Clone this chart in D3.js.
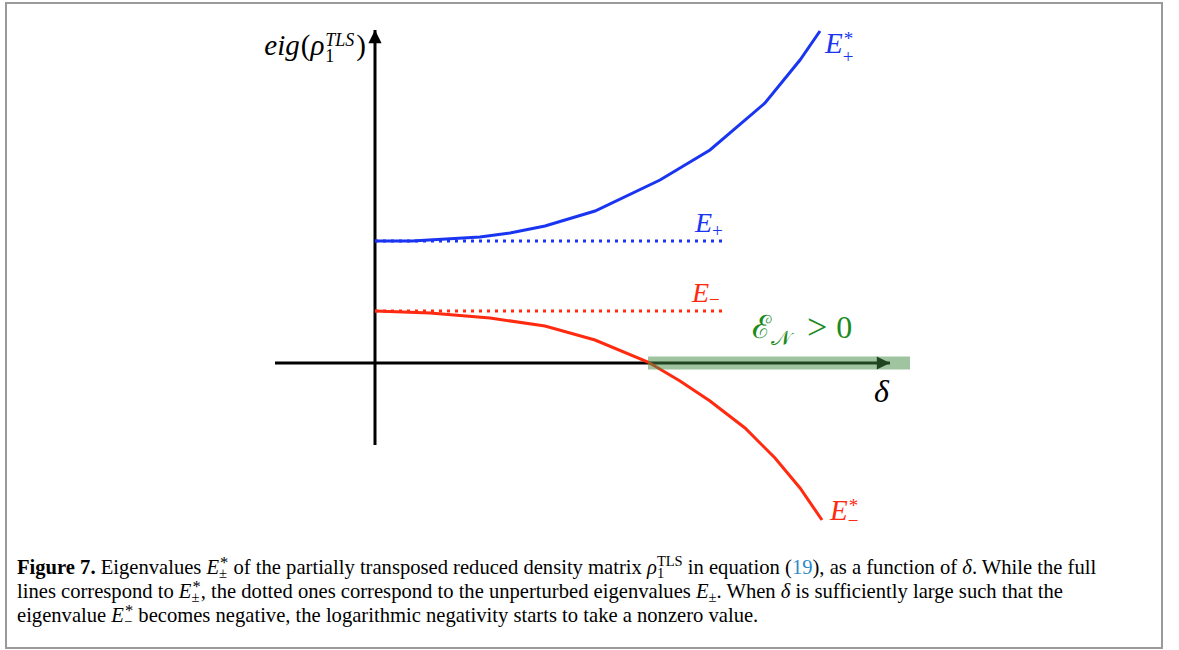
<!DOCTYPE html>
<html>
<head>
<meta charset="utf-8">
<script src="https://cdn.jsdelivr.net/npm/d3@7"></script>
<style>
  body { margin: 0; background: #fff; }
  svg { display: block; }
  text { white-space: pre; }
</style>
</head>
<body>
<div id="chart"></div>
<script>
// Figure 7 - eigenvalues of partially transposed density matrix

const width = 1179;
const height = 650;

// data (delta, eigenvalue)
const deltaPlus = [0, 0.37, 1.05, 1.35, 1.70, 2.20, 2.85, 3.35, 3.90, 4.25, 4.45];
const eigPlus = [1.22, 1.22, 1.26, 1.30, 1.37, 1.52, 1.83, 2.13, 2.60, 3.03, 3.32];
const deltaMinus = [0, 0.55, 1.15, 1.70, 2.20, 2.73, 3.05, 3.35, 3.70, 4.00, 4.25, 4.47];
const eigMinus = [0.52, 0.50, 0.45, 0.37, 0.23, 0.01, -0.18, -0.38, -0.65, -0.95, -1.25, -1.57];
const unperturbed = [1.22, 0.52];        // E+, E-
const dottedRange = [0, 3.47];
const negativityStart = 2.73;            // where E-* crosses zero
const xAxisRange = [-1, 5.15];
const yAxisRange = [-0.82, 3.33];

const blue = '#1a35f2';
const red = '#ff2a10';
const green = '#1c8a1c';
const mathFont = '"Liberation Serif", "DejaVu Serif", serif';
const capFont = '"Liberation Serif", "Times New Roman", serif';

const svg = d3.select('#chart')
  .append('svg')
  .attr('width', width)
  .attr('height', height);

// frame
svg.append('rect')
  .attr('x', 6).attr('y', 3)
  .attr('width', 1156).attr('height', 645)
  .attr('fill', 'none')
  .attr('stroke', '#9a9a9a')
  .attr('stroke-width', 2);

// scales: 1 unit = 100px, origin at (375, 363)
const x = d3.scaleLinear().domain([-1, 5.35]).range([275, 910]);
const y = d3.scaleLinear().domain([-0.82, 3.33]).range([445, 30]);

const plot = svg.append('g');

// arrowheads
svg.append('defs').append('marker')
  .attr('id', 'arrow')
  .attr('viewBox', '0 0 10 10')
  .attr('refX', 10).attr('refY', 5)
  .attr('markerWidth', 6).attr('markerHeight', 4.4)
  .attr('markerUnits', 'strokeWidth')
  .attr('orient', 'auto')
  .append('path')
  .attr('d', 'M0,0 L10,5 L0,10 Z')
  .attr('fill', '#000');

// axes
plot.append('line')
  .attr('x1', x(xAxisRange[0])).attr('y1', y(0))
  .attr('x2', x(xAxisRange[1])).attr('y2', y(0))
  .attr('stroke', '#000').attr('stroke-width', 3)
  .attr('marker-end', 'url(#arrow)');

plot.append('line')
  .attr('x1', x(0)).attr('y1', y(yAxisRange[0]))
  .attr('x2', x(0)).attr('y2', y(yAxisRange[1]))
  .attr('stroke', '#000').attr('stroke-width', 3)
  .attr('marker-end', 'url(#arrow)');

// dotted unperturbed eigenvalues
plot.selectAll('.dotted')
  .data(unperturbed)
  .enter().append('line')
  .attr('class', 'dotted')
  .attr('x1', x(dottedRange[0])).attr('x2', x(dottedRange[1]))
  .attr('y1', d => y(d)).attr('y2', d => y(d))
  .attr('stroke', (d, i) => i === 0 ? blue : red)
  .attr('stroke-width', 3)
  .attr('stroke-dasharray', '3,5');

// perturbed curves
const line = d3.line()
  .x(d => x(d[0]))
  .y(d => y(d[1]));

plot.append('path')
  .datum(d3.zip(deltaPlus, eigPlus))
  .attr('d', line)
  .attr('fill', 'none')
  .attr('stroke', blue)
  .attr('stroke-width', 3);

plot.append('path')
  .datum(d3.zip(deltaMinus, eigMinus))
  .attr('d', line)
  .attr('fill', 'none')
  .attr('stroke', red)
  .attr('stroke-width', 3);

// region where negativity is nonzero
plot.append('rect')
  .attr('x', x(negativityStart))
  .attr('y', y(0) - 6.5)
  .attr('width', x(5.35) - x(negativityStart))
  .attr('height', 13)
  .attr('fill', 'rgb(65,137,65)')
  .attr('opacity', 0.5);

// lay out math pieces left to right; item = {t, it, bold, size, rise, fill, gap}
// or {stack: [sup, sub]} for scripts placed above each other
function mathRun(g, x0, y0, items, base) {
  let cx = x0;
  const put = (it, px) => {
    const t = g.append('text')
      .attr('x', px)
      .attr('y', y0 - (it.rise || 0))
      .attr('font-family', base.font)
      .attr('font-size', it.size || base.size)
      .attr('fill', it.fill || base.fill || '#000')
      .text(it.t);
    if (it.it) t.attr('font-style', 'italic');
    if (it.bold) t.attr('font-weight', 'bold');
    return t.node().getComputedTextLength();
  };
  items.forEach(it => {
    if (typeof it === 'string') it = { t: it };
    if (it.gap) { cx += it.gap; return; }
    if (it.stack) {
      const w = it.stack.map(s => put(s, cx + (s.dx || 0)) + (s.dx || 0));
      cx += d3.max(w);
    } else {
      cx += put(it, cx);
    }
  });
  return cx;
}

// y label, right edge near the axis
const yLabel = [
  { t: 'eig', it: true }, { gap: 1 }, '(', { t: 'ρ', it: true }, { gap: 1 },
  { stack: [{ t: 'TLS', it: true, size: 18, rise: 9 }, { t: '1', size: 18, rise: -7 }] },
  { gap: 2 }, ')'
];
const yLabelBase = { font: mathFont, size: 29 };
const probe = svg.append('g').attr('opacity', 0);
const yLabelW = mathRun(probe, 0, 0, yLabel, yLabelBase);
probe.remove();
mathRun(svg, x(0) - 9 - yLabelW, 55, yLabel, yLabelBase);

// curve labels
const lastP = deltaPlus.length - 1;
mathRun(svg, x(deltaPlus[lastP]) + 5, y(eigPlus[lastP]) + 22, [
  { t: 'E', it: true },
  { stack: [{ t: '*', size: 19, rise: 8, dx: 1 }, { t: '+', size: 19, rise: -10 }] }
], { font: mathFont, size: 29, fill: blue });

const lastM = deltaMinus.length - 1;
mathRun(svg, x(deltaMinus[lastM]) + 8, y(eigMinus[lastM]), [
  { t: 'E', it: true },
  { stack: [{ t: '*', size: 19, rise: 8, dx: 1 }, { t: '−', size: 19, rise: -7 }] }
], { font: mathFont, size: 29, fill: red });

mathRun(svg, x(dottedRange[1]) - 27, y(unperturbed[0]) - 9, [
  { t: 'E', it: true },
  { t: '+', size: 19, rise: -5 }
], { font: mathFont, size: 28, fill: blue });

mathRun(svg, x(dottedRange[1]) - 30, y(unperturbed[1]) - 9, [
  { t: 'E', it: true },
  { t: '−', size: 19, rise: -4 }
], { font: mathFont, size: 28, fill: red });

mathRun(svg, 752, 338, [
  { t: 'ℰ' },
  { t: '𝒩', size: 21, rise: -7 },
  { gap: 16 }, { t: '>', size: 36, rise: -1 }, { gap: 9 }, '0'
], { font: mathFont, size: 32, fill: green });

mathRun(svg, 874, 402, [{ t: 'δ', it: true }], { font: mathFont, size: 32 });

// caption
const cap = { font: capFont, size: 20.6 };
const sc = 14.5;
const starScript = sign => [
  { t: 'E', it: true },
  { stack: [{ t: '*', size: sc + 2, rise: 6, dx: 1 }, { t: sign, size: sc, rise: -4 }] }
];

mathRun(svg, 17, 574, [
  { t: 'Figure 7.', bold: true }, ' Eigenvalues ', ...starScript('±'),
  ' of the partially transposed reduced density matrix ',
  { t: 'ρ', it: true },
  { stack: [{ t: 'TLS', size: sc, rise: 8 }, { t: '1', size: sc, rise: -4 }] },
  ' in equation (', { t: '19', fill: '#2a8ac8' },
  '), as a function of ', { t: 'δ', it: true }, '. While the full'
], cap);

mathRun(svg, 17, 598, [
  'lines correspond to ', ...starScript('±'),
  ', the dotted ones correspond to the unperturbed eigenvalues ',
  { t: 'E', it: true }, { t: '±', size: sc, rise: -4 },
  '. When ', { t: 'δ', it: true },
  ' is sufficiently large such that the'
], cap);

mathRun(svg, 17, 622, [
  'eigenvalue ', ...starScript('−'),
  ' becomes negative, the logarithmic negativity starts to take a nonzero value.'
], cap);
</script>
</body>
</html>
